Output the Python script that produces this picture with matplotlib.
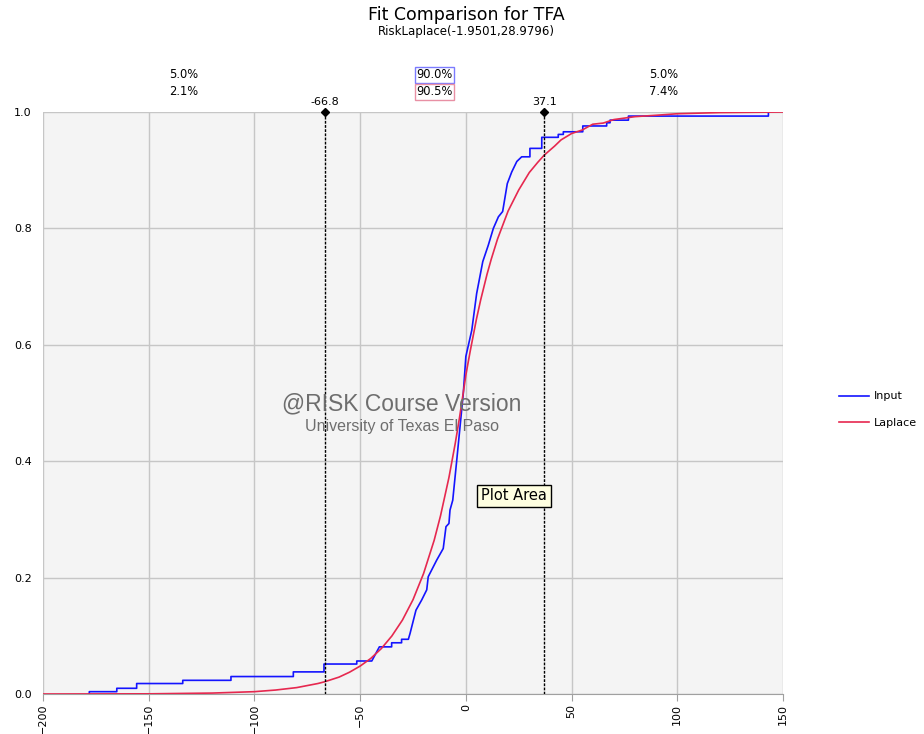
"""Fit comparison chart: empirical CDF of TFA vs fitted Laplace CDF."""

import matplotlib
matplotlib.use("Agg")
import matplotlib.pyplot as plt
import matplotlib.transforms as mtransforms

input_x = [-178.1, -178.1, -165.1, -165.1, -155.7, -155.7, -133.9, -133.9,
           -111.1, -111.1, -81.6, -81.6, -67.1, -67.1, -51.6, -51.6, -44.5,
           -40.9, -35.1, -35.1, -30.4, -30.4, -27.2, -26.4, -23.6, -20.9,
           -18.5, -17.8, -13.8, -10.7, -9.4, -8.0, -7.5, -6.2, -4.3, -1.2,
           0.0, 2.8, 5.1, 8.0, 10.6, 13.0, 15.4, 17.4, 19.6, 21.7, 24.1,
           26.4, 30.3, 30.3, 35.9, 35.9, 43.7, 43.7, 46.1, 46.1, 55.3, 55.3,
           66.6, 66.6, 68.2, 68.2, 76.9, 76.9, 143.1, 143.1]
input_p = [0.0, 0.004, 0.004, 0.0098, 0.0098, 0.018, 0.018, 0.0235,
           0.0235, 0.030, 0.030, 0.038, 0.038, 0.0515, 0.0515, 0.0567, 0.0567,
           0.081, 0.081, 0.088, 0.088, 0.094, 0.094, 0.104, 0.144, 0.1615,
           0.179, 0.2015, 0.230, 0.250, 0.2875, 0.293, 0.316, 0.333, 0.402, 0.517,
           0.580, 0.625, 0.688, 0.743, 0.771, 0.800, 0.820, 0.829, 0.877, 0.897, 0.915,
           0.923, 0.923, 0.9375, 0.9375, 0.9565, 0.9565, 0.9615, 0.9615, 0.966, 0.966, 0.976,
           0.976, 0.9815, 0.9815, 0.986, 0.986, 0.993, 0.993, 1.0]

# Fitted Laplace CDF
laplace_x = [-200, -150, -120, -100, -90, -80, -70, -66.8, -60, -55, -50, -45,
             -40, -35, -30, -25, -20, -15, -12, -10, -8, -5, -3, -1.95, 0, 2,
             5, 7, 10, 12, 15, 20, 25, 30, 34, 37.1, 42, 45, 50, 55, 60, 65,
             70, 80, 90, 100, 120, 150]
laplace_p = [0.0, 0.0003, 0.0016, 0.004, 0.0068, 0.011, 0.018, 0.021, 0.029,
             0.0375, 0.048, 0.061, 0.078, 0.0997, 0.127, 0.162, 0.207, 0.264,
             0.306, 0.339, 0.372, 0.431, 0.475, 0.5, 0.548, 0.588, 0.644, 0.677,
             0.721, 0.747, 0.782, 0.830, 0.866, 0.896, 0.9135, 0.926, 0.9415,
             0.952, 0.963, 0.969, 0.979, 0.981, 0.987, 0.992, 0.9944, 0.997,
             0.999, 1.0]

# Delimiters and the probabilities in each region
delimiters = [-66.8, 37.1]
input_pct = ["5.0%", "90.0%", "5.0%"]
laplace_pct = ["2.1%", "90.5%", "7.4%"]

BLUE = "#1414ff"
RED = "#e6284f"

fig = plt.figure(figsize=(9.24, 7.34), dpi=100)
ax = fig.add_axes([43 / 924, 1 - 694 / 734, 740 / 924, 582 / 734])
ax.set_facecolor("#f4f4f4")

ax.plot(input_x, input_p, color=BLUE, linewidth=1.2, label="Input", zorder=3)
ax.plot(laplace_x, laplace_p, color=RED, linewidth=1.2, label="Laplace", zorder=3)

ax.set_xlim(-200, 150)
ax.set_ylim(0, 1)
ax.set_xticks(range(-200, 151, 50))
ax.set_yticks([0.0, 0.2, 0.4, 0.6, 0.8, 1.0])
ax.set_yticklabels([f"{v:.1f}" for v in ax.get_yticks()])
ax.grid(True, color="#c6c6c6", linewidth=1.0, zorder=0)
ax.set_axisbelow(True)
for side in ["top", "right", "left"]:
    ax.spines[side].set_visible(False)
ax.spines["bottom"].set_color("#a0a0a0")
ax.tick_params(axis="x", rotation=90, labelsize=8, length=5, color="#a0a0a0", pad=2)
ax.tick_params(axis="y", labelsize=8, length=0, pad=8)

# Delimiter lines with diamond handles on top
trans = mtransforms.blended_transform_factory(ax.transData, ax.transAxes)
for d in delimiters:
    ax.axvline(d, color="black", linewidth=1.0, linestyle=(0, (2, 1)), zorder=4)
    ax.plot([d], [1.0], marker="D", color="black", markersize=4.5,
            transform=trans, clip_on=False, zorder=5)
    ax.text(d, 1.008, f"{d:.1f}", transform=trans, ha="center", va="bottom", fontsize=8)

# Region percentages above the plot
edges = [-200] + delimiters + [150]
for i in range(3):
    cx = (edges[i] + edges[i + 1]) / 2
    if i == 1:
        box1 = dict(boxstyle="square,pad=0.1", facecolor="white", edgecolor="#7b7bff", linewidth=1.0)
        box2 = dict(boxstyle="square,pad=0.1", facecolor="white", edgecolor="#e890a4", linewidth=1.0)
    else:
        box1 = box2 = None
    ax.text(cx, 1.0636, input_pct[i], transform=trans, ha="center", va="center",
            fontsize=8.3, bbox=box1)
    ax.text(cx, 1.0344, laplace_pct[i], transform=trans, ha="center", va="center",
            fontsize=8.3, bbox=box2)

# Titles
fig.text(466 / 924, 1 - 15 / 734, "Fit Comparison for TFA", ha="center", va="center", fontsize=12.5)
fig.text(466 / 924, 1 - 32 / 734, "RiskLaplace(-1.9501,28.9796)", ha="center", va="center", fontsize=8.5)

# Watermark
fig.text(402 / 924, 1 - 404 / 734, "@RISK Course Version", ha="center", va="center",
         fontsize=16.5, color="#6e6e6e", family="Liberation Sans")
fig.text(402 / 924, 1 - 426 / 734, "University of Texas El Paso", ha="center", va="center",
         fontsize=11.5, color="#6e6e6e", family="Liberation Sans")

# Tooltip
fig.text(514 / 924, 1 - 496 / 734, "Plot Area", ha="center", va="center", fontsize=10.5,
         bbox=dict(boxstyle="square,pad=0.25", facecolor="#ffffe1", edgecolor="black", linewidth=1.0),
         zorder=10)

# Legend
fig.legend(loc="center left", bbox_to_anchor=(829 / 924, 1 - 409.5 / 734), frameon=False,
           fontsize=8, handlelength=2.7, handletextpad=0.4, labelspacing=1.45)

fig.savefig("out.png", dpi=100)
